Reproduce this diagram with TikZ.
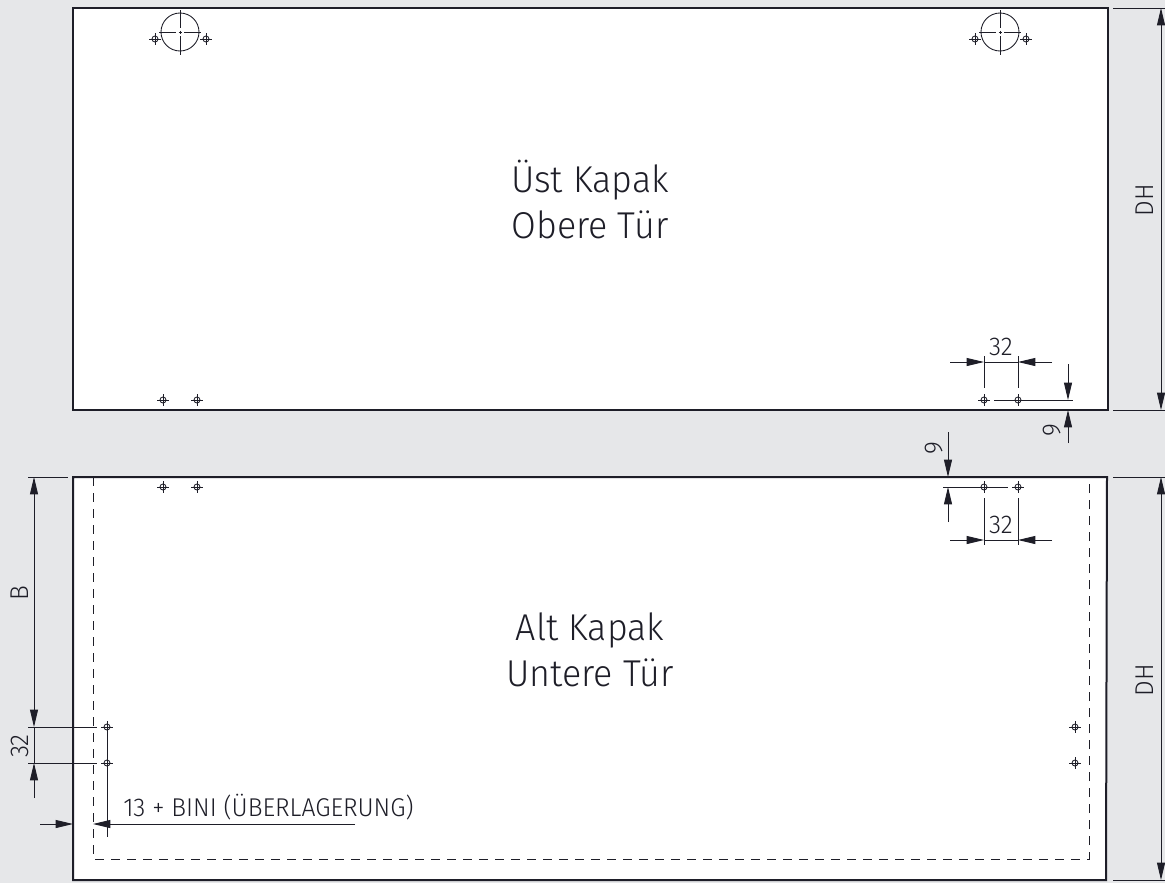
\documentclass[tikz,border=0pt]{standalone}
\usepackage{fontspec}
\setmainfont[UprightFont=* Light,FakeStretch=0.96]{Fira Sans}
\usetikzlibrary{calc,arrows.meta}
\definecolor{panel}{HTML}{E6E7E9}
\definecolor{ink}{HTML}{1E1E28}
\tikzset{
    door/.style={draw=ink,fill=white,line width=1.5pt},
    dimline/.style={draw=ink,line width=0.65pt},
    dimarrow/.style={dimline,-{Triangle[length=13pt,width=6pt]}},
    twoarrow/.style={dimline,{Triangle[length=13pt,width=6pt]}-{Triangle[length=13pt,width=6pt]}},
    hidden/.style={draw=ink,line width=0.65pt,dash pattern=on 6.4pt off 5.6pt},
    bigtext/.style={font=\fontsize{28}{34.5}\selectfont,align=center,text=ink,inner sep=0pt},
    smalltext/.style={font=\fontsize{19.3}{20}\selectfont,text=ink,inner sep=0pt},
}
\newcommand{\drillhole}[1]{
    \draw [dimline] (#1) circle (3);
    \draw [dimline] ($(#1) + (-6,0)$) -- ($(#1) + (6,0)$);
    \draw [dimline] ($(#1) + (0,-6)$) -- ($(#1) + (0,6)$);
}
\begin{document}
\begin{tikzpicture}[x=0.75pt,y=-0.75pt]
            \fill [panel] (0,0) rectangle (1165,883);
            \useasboundingbox (0,0) rectangle (1165,883);

            % doors
            \draw [door] (73,8) rectangle (1108,410);
            \draw [door] (73,477) -- (1107,477) -- (1106,880) -- (73,880) -- cycle;
            \draw [hidden] (93,477) -- (93,859) -- (1089,859) -- (1089,477);

            \node [bigtext] (upper) at (590,199) {Üst Kapak\\Obere Tür};
            \node [bigtext] (lower) at (590,650) {Alt Kapak\\Untere Tür};

            % holes
            \foreach \x/\y in {163/400, 197/400, 984/400, 1018/400, 163/487, 197/487, 984/487, 1018/487, 107/727, 107/763, 1075/727, 1075/763, 155/39, 206/39, 975/39, 1026/39}
                {
                    \drillhole{\x,\y}
                }

            % hanging holes
            \foreach \n in {180, 1000}
                {
                    \coordinate (H) at (\n,32);
                    \draw [dimline] (H) circle (19);
                    \draw [dimline] ($(H) + (0,-22)$) -- ($(H) + (0,-4)$);
                    \draw [dimline] ($(H) + (0,4)$) -- ($(H) + (0,23)$);
                    \draw [dimline] ($(H) + (-21,0)$) -- ($(H) + (-4,0)$);
                    \draw [dimline] ($(H) + (4,0)$) -- ($(H) + (21,0)$);
                    \draw [dimline] ($(H) + (-1.5,0)$) -- ($(H) + (1.5,0)$);
                    \draw [dimline] ($(H) + (0,-1.5)$) -- ($(H) + (0,1.5)$);
                }

            % DH on the right
            \foreach \a/\b/\m in {8/410/200, 477/880/680}
                {
                    \coordinate (T) at (1161,\a);
                    \coordinate (E) at (1161,\b);
                    \draw [dimline] (1113,\a) -- (1165,\a);
                    \draw [dimline] (1113,\b) -- (1165,\b);
                    \draw [twoarrow] (T) -- (E);
                    \node [smalltext,rotate=90] at (1145,\m) {DH};
                }

            % 32 on both doors
            \foreach \y/\a/\b/\t in {362/356/388/347, 540/498/545/525}
                {
                    \coordinate (L) at (984,\y);
                    \coordinate (R) at (1018,\y);
                    \draw [dimarrow] (950,\y) -- (L);
                    \draw [dimarrow] (1052,\y) -- (R);
                    \draw [dimline] (L) -- (R);
                    \draw [dimline] (984,\a) -- (984,\b);
                    \draw [dimline] (1018,\a) -- (1018,\b);
                    \node [smalltext] at (1001,\t) {32};
                }

            % 9 on both doors
            \draw [dimline] (994,400) -- (1073,400);
            \draw [dimarrow] (1068,364) -- (1068,400);
            \draw [dimarrow] (1068,443) -- (1068,410);
            \node [smalltext,rotate=90] at (1052,430) {9};
            \draw [dimline] (943,487) -- (1008,487);
            \draw [dimarrow] (948,432) -- (948,477);
            \draw [dimarrow] (948,522) -- (948,487);
            \node [smalltext,rotate=90] at (934,448) {9};

            % left side of the lower door
            \draw [dimline] (28,477) -- (68,477);
            \draw [dimline] (28,727) -- (97,727);
            \draw [dimline] (28,763) -- (97,763);
            \draw [twoarrow] (34,477) -- (34,727);
            \draw [dimarrow] (34,798) -- (34,763);
            \draw [dimline] (34,727) -- (34,763);
            \node [smalltext,rotate=90] at (20,593) {B};
            \node [smalltext,rotate=90] at (20,746) {32};

            % overlay
            \draw [dimline] (107,727) -- (107,837);
            \draw [dimarrow] (40,824) -- (73,824);
            \draw [dimarrow] (355,824) -- (93,824);
            \node [smalltext,anchor=west] at (123,807) {13 + BINI (ÜBERLAGERUNG)};

        \end{tikzpicture}
\end{document}
